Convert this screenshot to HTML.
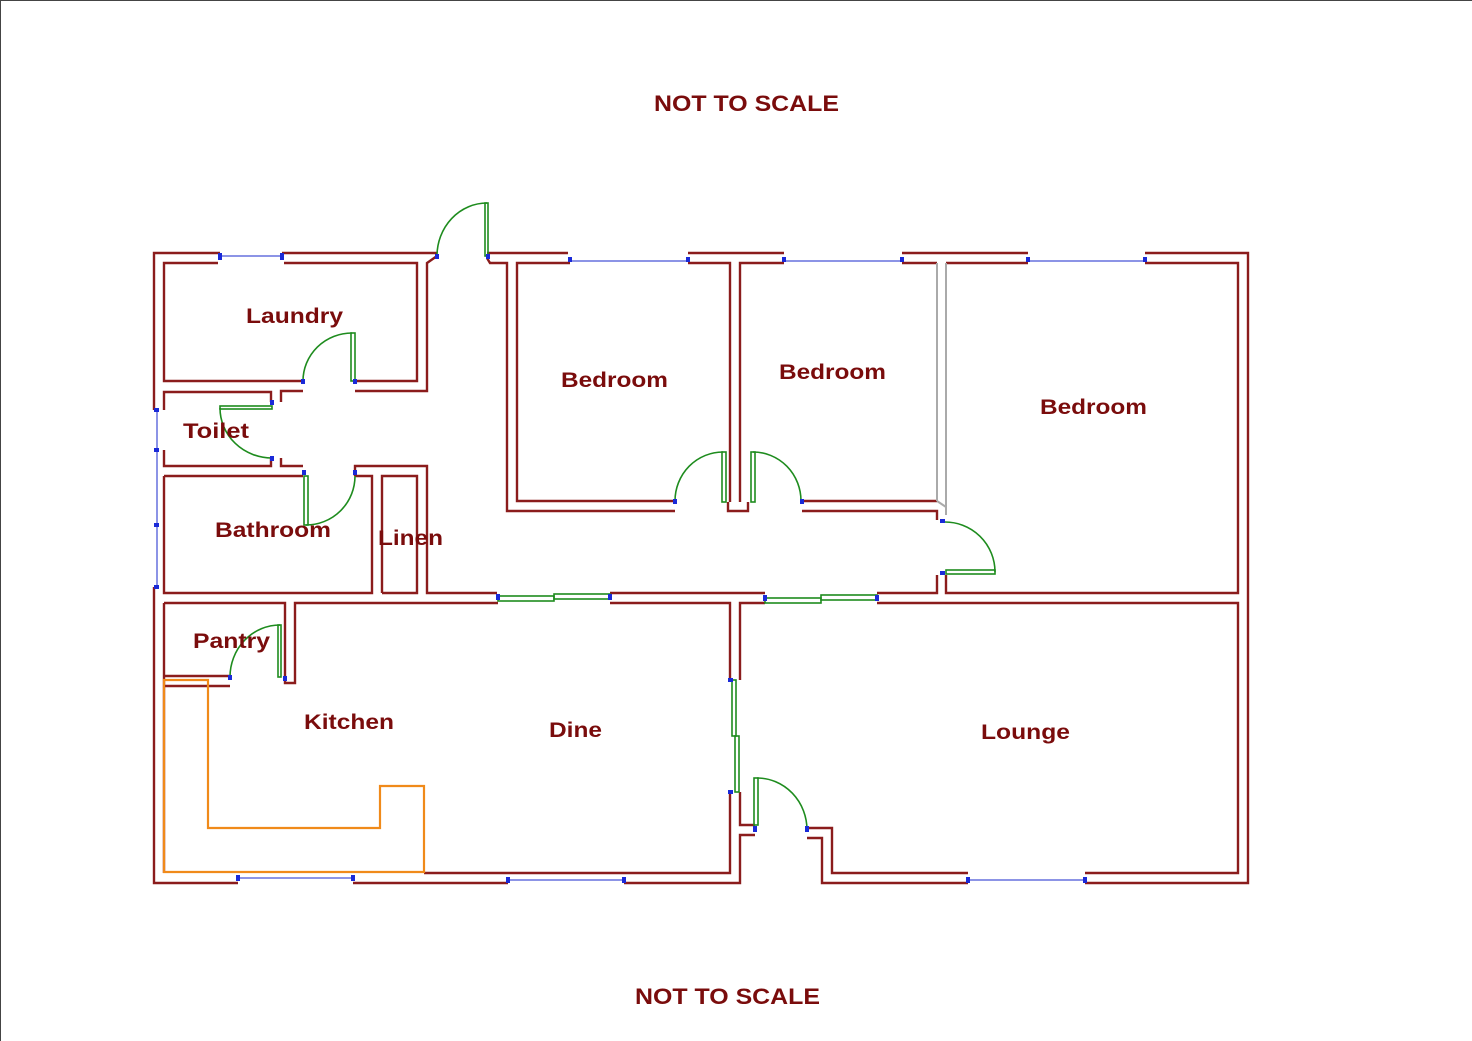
<!DOCTYPE html>
<html><head><meta charset="utf-8"><style>
html,body{margin:0;padding:0;background:#fff;}
svg{display:block;}
text{font-family:"Liberation Sans",sans-serif;font-weight:bold;fill:#7a0c0c;}
</style></head><body>
<svg width="1472" height="1041" viewBox="0 0 1472 1041" xmlns="http://www.w3.org/2000/svg">
<rect x="0" y="0" width="1472" height="1041" fill="#fff"/>
<line x1="0.5" y1="0" x2="0.5" y2="1041" stroke="#444" stroke-width="1"/>
<line x1="0" y1="0.5" x2="1472" y2="0.5" stroke="#444" stroke-width="1"/>
<text x="654" y="111" font-size="22" textLength="185" lengthAdjust="spacingAndGlyphs">NOT TO SCALE</text>
<text x="635" y="1004" font-size="22" textLength="185" lengthAdjust="spacingAndGlyphs">NOT TO SCALE</text>

<g stroke="#6670dd" stroke-width="1.5" fill="none">
<line x1="220" y1="256" x2="282" y2="256"/>
<line x1="570" y1="261" x2="688" y2="261"/>
<line x1="784" y1="261" x2="902" y2="261"/>
<line x1="1028" y1="261" x2="1145" y2="261"/>
<line x1="238" y1="878" x2="353" y2="878"/>
<line x1="508" y1="880" x2="624" y2="880"/>
<line x1="968" y1="880" x2="1085" y2="880"/>
<line x1="157" y1="410" x2="157" y2="587"/>
</g>

<g stroke="#8b1c1c" stroke-width="2.4" fill="none" stroke-linejoin="miter">
<polyline points="220,253 154,253 154,410"/>
<line x1="282" y1="253" x2="437" y2="253"/>
<polyline points="487,253 568,253"/>
<line x1="688" y1="253" x2="784" y2="253"/>
<line x1="902" y1="253" x2="1028" y2="253"/>
<polyline points="1145,253 1248,253 1248,883 1085,883"/>
<polyline points="218,263 164,263 164,381 303,381"/>
<polyline points="284,263 417,263 417,381 355,381"/>
<polyline points="437,256 427,263 427,391 355,391"/>
<polyline points="303,391 281,391 281,402"/>
<polyline points="487,258 490,263 507,263 507,511 675,511"/>
<polyline points="570,263 517,263 517,501 675,501"/>
<polyline points="688,263 730,263 730,502"/>
<polyline points="784,263 740,263 740,502"/>
<polyline points="728,502 728,511 748,511 748,502"/>
<polyline points="802,501 937,501"/>
<polyline points="902,263 937,263"/>
<polyline points="1028,263 946,263"/>
<polyline points="802,511 937,511 937,520"/>
<polyline points="1145,263 1238,263 1238,593 946,593 946,575"/>
<polyline points="937,575 937,593 877,593"/>
<polyline points="164,402 164,392 271,392 271,402"/>
<polyline points="164,410 164,402"/>
<polyline points="271,458 271,466 164,466 164,450"/>
<polyline points="281,458 281,466 303,466"/>
<polyline points="164,476 303,476"/>
<polyline points="355,476 355,466 427,466 427,593 497,593"/>
<polyline points="164,476 164,593 372,593 372,476 355,476"/>
<polyline points="382,593 382,476 417,476 417,593 382,593"/>
<polyline points="154,587 154,883 238,883"/>
<line x1="353" y1="883" x2="508" y2="883"/>
<polyline points="624,883 740,883 740,835 755,835"/>
<polyline points="164,603 285,603 285,683 295,683 295,603 498,603"/>
<polyline points="164,603 164,873"/>
<polyline points="164,676 230,676"/>
<polyline points="164,686 230,686"/>
<polyline points="424,873 730,873 730,792"/>
<polyline points="610,593 765,593"/>
<polyline points="610,603 730,603 730,680"/>
<polyline points="765,603 740,603 740,680"/>
<polyline points="740,792 740,825 755,825"/>
<polyline points="807,828 832,828 832,873 968,873"/>
<polyline points="807,838 822,838 822,883 968,883"/>
<polyline points="877,603 1238,603 1238,873 1085,873"/>
</g>
<g stroke="#aaa" stroke-width="2" fill="none">
<line x1="937" y1="263" x2="937" y2="501"/>
<line x1="946" y1="263" x2="946" y2="515"/>
<line x1="937" y1="501" x2="946" y2="507"/>
</g>
<polygon points="164,680 208,680 208,828 380,828 380,786 424,786 424,872 164,872" fill="none" stroke="#f08a1a" stroke-width="2.2"/>

<g stroke="#1e8c1e" stroke-width="1.6" fill="none">
<rect x="485" y="203" width="3" height="53"/>
<path d="M437,256 A50,53 0 0 1 487,203"/>
<rect x="351" y="333" width="4" height="48"/>
<path d="M303,381 A49,48 0 0 1 352,333"/>
<rect x="220" y="406" width="52" height="3"/>
<path d="M220,408 A52,50 0 0 0 272,458"/>
<rect x="304" y="476" width="4" height="49"/>
<path d="M306,525 A49,49 0 0 0 355,476"/>
<rect x="722" y="452" width="4" height="50"/>
<path d="M675,501 A48,49 0 0 1 723,452"/>
<rect x="751" y="452" width="4" height="50"/>
<path d="M753,452 A48,49 0 0 1 801,501"/>
<rect x="946" y="570" width="49" height="4"/>
<path d="M944,522 A50,50 0 0 1 995,572"/>
<rect x="278" y="625" width="3" height="52"/>
<path d="M230,677 A50,52 0 0 1 280,625"/>
<rect x="754" y="778" width="4" height="47"/>
<path d="M757,778 A50,52 0 0 1 807,830"/>
<rect x="498" y="596" width="56" height="5"/>
<rect x="554" y="594" width="56" height="5"/>
<rect x="765" y="598" width="56" height="5"/>
<rect x="821" y="595" width="56" height="5"/>
<rect x="732" y="680" width="4" height="56"/>
<rect x="735" y="736" width="4" height="56"/>
</g>
<g fill="#1a2ad8">
<rect x="218" y="253" width="4" height="7"/><rect x="280" y="253" width="4" height="7"/>
<rect x="435" y="254" width="4" height="5"/><rect x="486" y="254" width="4" height="5"/>
<rect x="568" y="257" width="4" height="5"/><rect x="686" y="257" width="4" height="5"/>
<rect x="782" y="257" width="4" height="5"/><rect x="900" y="257" width="4" height="5"/>
<rect x="1026" y="257" width="4" height="5"/><rect x="1143" y="257" width="4" height="5"/>
<rect x="236" y="875" width="4" height="6"/><rect x="351" y="875" width="4" height="6"/>
<rect x="506" y="877" width="4" height="6"/><rect x="622" y="877" width="4" height="6"/>
<rect x="966" y="877" width="4" height="6"/><rect x="1083" y="877" width="4" height="6"/>
<rect x="673" y="499" width="4" height="5"/><rect x="800" y="499" width="4" height="5"/>
<rect x="301" y="379" width="4" height="5"/><rect x="353" y="379" width="4" height="5"/>
<rect x="496" y="594" width="4" height="6"/><rect x="608" y="594" width="4" height="6"/>
<rect x="763" y="595" width="4" height="6"/><rect x="875" y="595" width="4" height="6"/>
<rect x="728" y="678" width="5" height="4"/><rect x="728" y="790" width="5" height="4"/>
<rect x="228" y="675" width="4" height="5"/><rect x="283" y="676" width="4" height="5"/>
<rect x="940" y="519" width="5" height="4"/><rect x="940" y="571" width="5" height="4"/>
<rect x="753" y="826" width="4" height="6"/><rect x="805" y="826" width="4" height="6"/>
<rect x="154" y="408" width="5" height="4"/><rect x="154" y="448" width="5" height="4"/>
<rect x="154" y="523" width="5" height="4"/><rect x="154" y="585" width="5" height="4"/>
<rect x="270" y="400" width="4" height="5"/><rect x="270" y="456" width="4" height="5"/>
<rect x="302" y="470" width="4" height="5"/><rect x="353" y="470" width="4" height="5"/>
</g>

<g font-size="21">
<text x="246" y="323" textLength="97" lengthAdjust="spacingAndGlyphs">Laundry</text>
<text x="183" y="438" textLength="66" lengthAdjust="spacingAndGlyphs">Toilet</text>
<text x="215" y="537" textLength="116" lengthAdjust="spacingAndGlyphs">Bathroom</text>
<text x="378" y="545" textLength="65" lengthAdjust="spacingAndGlyphs">Linen</text>
<text x="561" y="387" textLength="107" lengthAdjust="spacingAndGlyphs">Bedroom</text>
<text x="779" y="379" textLength="107" lengthAdjust="spacingAndGlyphs">Bedroom</text>
<text x="1040" y="414" textLength="107" lengthAdjust="spacingAndGlyphs">Bedroom</text>
<text x="193" y="648" textLength="77" lengthAdjust="spacingAndGlyphs">Pantry</text>
<text x="304" y="729" textLength="90" lengthAdjust="spacingAndGlyphs">Kitchen</text>
<text x="549" y="737" textLength="53" lengthAdjust="spacingAndGlyphs">Dine</text>
<text x="981" y="739" textLength="89" lengthAdjust="spacingAndGlyphs">Lounge</text>
</g>
</svg>
</body></html>
